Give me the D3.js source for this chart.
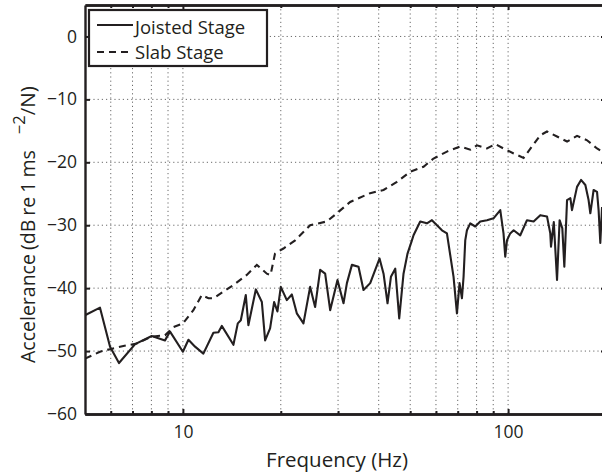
<!DOCTYPE html>
<html>
<head>
<meta charset="utf-8">
<script src="https://cdn.jsdelivr.net/npm/d3@7"></script>
<style>
  html, body { margin: 0; padding: 0; background: #fff; overflow: hidden; }
  svg { display: block; }
  text { font-family: "Open Sans", "Noto Sans", sans-serif; fill: #231f20; }
</style>
</head>
<body>
<svg id="chart" width="602" height="475"></svg>
<script>
// ---------- data ----------
const seriesNames = ["Joisted Stage", "Slab Stage"];

const joistedFreq = [5.0, 5.56, 5.97, 6.36, 7.13, 8.02, 8.81, 9.13, 10.0, 10.4, 10.9, 11.56, 12.41, 12.86, 13.17,
  14.3, 14.75, 15.07, 15.61, 15.9, 16.76, 17.49, 17.9, 18.54, 19.08, 19.53, 20.0, 20.87, 21.63, 22.4, 22.94,
  23.48, 24.62, 25.5, 26.43, 27.38, 28.37, 29.88, 31.18, 31.94, 33.09, 34.67, 35.92, 37.67, 39.03, 40.24,
  41.4, 42.58, 43.62, 44.97, 46.26, 47.69, 49.06, 50.61, 51.19, 53.68, 56.29, 58.32, 60.42, 62.6, 64.85,
  67.96, 69.61, 70.91, 72.12, 72.95, 73.83, 74.72, 76.49, 79.25, 82.1, 86.1, 90.2, 94.6, 96.8, 98.0, 99.2,
  101.5, 104.0, 109.0, 114.3, 119.8, 125.6, 131.7, 134.8, 135.5, 138.2, 141.4, 144.0, 146.8, 148.9, 151.8,
  155.4, 157.2, 162.9, 167.6, 172.8, 176.8, 179.0, 183.2, 187.7, 189.8, 192.1, 194.5];
const joistedValues = [-44.3, -43.1, -49.3, -51.9, -48.9, -47.6, -48.3, -46.9, -50.1, -48.2, -49.3, -50.4, -47.1, -47.0, -46.0,
  -49.0, -45.6, -45.1, -41.1, -45.9, -40.2, -42.2, -48.3, -46.4, -42.2, -43.7, -39.8, -41.9, -41.0, -44.0, -44.8,
  -45.6, -39.8, -43.0, -37.1, -37.7, -43.5, -38.7, -42.4, -39.2, -36.3, -36.6, -40.3, -39.2, -37.1, -35.3,
  -37.7, -42.4, -38.2, -36.9, -44.8, -37.7, -34.5, -32.4, -31.6, -29.4, -29.7, -29.2, -30.0, -30.8, -31.3,
  -38.2, -44.0, -39.2, -41.6, -38.2, -32.4, -30.8, -29.7, -30.2, -29.4, -29.2, -28.9, -27.6, -31.3, -35.0, -32.4,
  -31.3, -30.8, -31.6, -29.2, -29.4, -28.4, -28.6, -31.3, -33.4, -29.5, -38.7, -29.2, -30.5, -36.6, -26.0,
  -25.7, -27.6, -23.9, -22.8, -23.6, -26.0, -28.1, -24.4, -24.7, -27.6, -32.8, -27.1];

const slabFreq = [5.0, 5.56, 5.97, 6.56, 7.21, 8.02, 8.81, 9.35, 10.0, 10.77, 11.43, 11.98, 12.41, 14.3, 15.72,
  16.88, 18.12, 18.6, 19.2, 20.38, 22.14, 22.94, 24.62, 27.71, 29.75, 32.69, 37.67, 41.4, 45.51, 50.0, 54.95,
  58.97, 64.85, 71.25, 76.49, 80.21, 86.1, 91.3, 96.8, 104.0, 111.6, 118.4, 125.6, 131.7, 141.4, 151.8,
  162.9, 174.9, 187.7, 194.5];
const slabValues = [-51.2, -50.1, -49.7, -49.2, -48.8, -47.7, -47.5, -46.2, -45.6, -43.5, -41.1, -41.6, -41.6, -39.5, -37.9,
  -36.3, -37.7, -37.9, -34.5, -33.7, -32.4, -31.6, -30.0, -29.4, -28.1, -26.3, -24.9, -24.4, -23.1, -21.5, -20.7,
  -19.4, -18.3, -17.5, -18.0, -17.3, -17.8, -17.1, -17.8, -18.6, -19.3, -17.5, -15.7, -15.1, -15.9, -16.7,
  -15.8, -16.5, -17.8, -18.3];

const xTickValues = [10, 100];
const xTickLabels = ["10", "100"];
const xMinorValues = [6, 7, 8, 9, 20, 30, 40, 50, 60, 70, 80, 90];
const yTickValues = [-60, -50, -40, -30, -20, -10, 0];
const yTickLabels = ["\u221260", "\u221250", "\u221240", "\u221230", "\u221220", "\u221210", "0"];
const xDomain = [5, 200];
const yDomain = [-60, 5];

// ---------- layout ----------
const svg = d3.select("#chart");
const L = 85, R = 606, T = 5, B = 414;
const x = d3.scaleLog().domain(xDomain).range([L, R]);
const y = d3.scaleLinear().domain(yDomain).range([B, T]);
const ink = "#231f20";

svg.append("defs").append("clipPath").attr("id", "clip")
  .append("rect").attr("x", L).attr("y", T).attr("width", R - L).attr("height", B - T);

// grid
const grid = svg.append("g");
grid.selectAll("line.vx").data(xMinorValues.concat(xTickValues)).join("line")
  .attr("x1", d => x(d)).attr("x2", d => x(d)).attr("y1", T).attr("y2", B)
  .attr("stroke", "#6a6a6a").attr("stroke-width", 1).attr("stroke-dasharray", "1.2,3");
grid.selectAll("line.hy").data(yTickValues.filter(v => v > -60)).join("line")
  .attr("x1", L).attr("x2", R).attr("y1", d => y(d)).attr("y2", d => y(d))
  .attr("stroke", "#6a6a6a").attr("stroke-width", 1).attr("stroke-dasharray", "1.2,3");

// data lines
const line = d3.line().x(d => x(d[0])).y(d => y(d[1]));
const plot = svg.append("g").attr("clip-path", "url(#clip)");
plot.append("path").datum(joistedFreq.map((f, i) => [f, joistedValues[i]]))
  .attr("d", line).attr("fill", "none").attr("stroke", ink).attr("stroke-width", 2.1)
  .attr("stroke-linejoin", "round");
plot.append("path").datum(slabFreq.map((f, i) => [f, slabValues[i]]))
  .attr("d", line).attr("fill", "none").attr("stroke", ink).attr("stroke-width", 2.1)
  .attr("stroke-dasharray", "7,5");

// axes (ticks inside)
const fontTick = 17.5;
const xAxisB = d3.axisBottom(x).tickValues(xTickValues).tickFormat((d, i) => xTickLabels[i]).tickSizeInner(-5).tickSizeOuter(0).tickPadding(12);
const gxb = svg.append("g").attr("transform", `translate(0,${B})`).call(xAxisB);
const xAxisBm = d3.axisBottom(x).tickValues(xMinorValues).tickFormat("").tickSizeInner(-3).tickSizeOuter(0);
const gxbm = svg.append("g").attr("transform", `translate(0,${B})`).call(xAxisBm);
const xAxisT = d3.axisTop(x).tickValues(xTickValues).tickFormat("").tickSizeInner(-5).tickSizeOuter(0);
const gxt = svg.append("g").attr("transform", `translate(0,${T})`).call(xAxisT);
const xAxisTm = d3.axisTop(x).tickValues(xMinorValues).tickFormat("").tickSizeInner(-3).tickSizeOuter(0);
const gxtm = svg.append("g").attr("transform", `translate(0,${T})`).call(xAxisTm);
const yAxisL = d3.axisLeft(y).tickValues(yTickValues).tickFormat((d, i) => yTickLabels[i]).tickSizeInner(-5).tickSizeOuter(0).tickPadding(8);
const gyl = svg.append("g").attr("transform", `translate(${L},0)`).call(yAxisL);
const yAxisR = d3.axisRight(y).tickValues(yTickValues).tickFormat("").tickSizeInner(-5).tickSizeOuter(0);
const gyr = svg.append("g").attr("transform", `translate(${R},0)`).call(yAxisR);

[gxb, gxbm, gxt, gxtm, gyl, gyr].forEach(g => {
  g.select(".domain").attr("stroke", ink).attr("stroke-width", 2.4);
  g.selectAll(".tick line").attr("stroke", ink).attr("stroke-width", 2);
  g.selectAll(".tick text").attr("fill", ink).style("font-size", fontTick + "px")
    .style("font-family", '"Open Sans", sans-serif');
});
gxb.selectAll(".tick text").attr("dy", "0.71em");

// axis titles
svg.append("text").attr("x", 337).attr("y", 467).attr("text-anchor", "middle")
  .style("font-size", "20.5px").text("Frequency (Hz)");

const yl = svg.append("text").attr("transform", `translate(35,363) rotate(-90)`)
  .attr("text-anchor", "start").style("font-size", "19.5px").style("word-spacing", "-1px");
yl.append("tspan").text("Accelerance (dB re 1 ms");
yl.append("tspan").attr("dx", 16).attr("dy", -10).style("font-size", "16.5px").text("\u22122");
yl.append("tspan").attr("dy", 10).style("font-size", "20.5px").text("/N)");

// legend
const lg = svg.append("g");
lg.append("rect").attr("x", 89).attr("y", 10).attr("width", 178).attr("height", 56)
  .attr("fill", "#fff").attr("stroke", ink).attr("stroke-width", 2.2);
const legendRows = [{ name: seriesNames[0], dash: null, ly: 25, ty: 33.5 },
                    { name: seriesNames[1], dash: "7,5", ly: 52, ty: 59 }];
legendRows.forEach(r => {
  lg.append("line").attr("x1", 97).attr("x2", 133).attr("y1", r.ly).attr("y2", r.ly)
    .attr("stroke", ink).attr("stroke-width", 2).attr("stroke-dasharray", r.dash);
  lg.append("text").attr("x", 135).attr("y", r.ty).style("font-size", "18.5px").text(r.name);
});
</script>
</body>
</html>
